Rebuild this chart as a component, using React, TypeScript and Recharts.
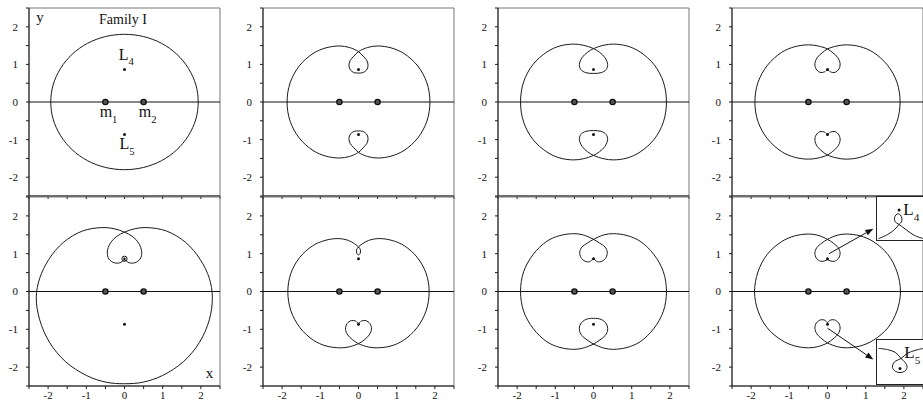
import {
  ComposedChart,
  Line,
  Scatter,
  XAxis,
  YAxis,
  ReferenceArea,
  ReferenceLine,
  ReferenceDot,
} from "recharts";

type Pt = [number, number];

// axis ticks every half unit, labels on integers only
const axisTicks = [-2.5, -2, -1.5, -1, -0.5, 0, 0.5, 1, 1.5, 2, 2.5];

const primaries: Pt[] = [
  [-0.5, 0],
  [0.5, 0],
];
const lagrangePoints: Pt[] = [
  [0, 0.866],
  [0, -0.866],
];

// orbits, traced in order along the path
const orbit1: Pt[] = [
  [1.93, 0], [1.87, 0.45], [1.67, 0.9], [1.37, 1.27], [0.97, 1.56], [0.5, 1.74], [0, 1.8],
  [-0.5, 1.74], [-0.97, 1.56], [-1.37, 1.27], [-1.67, 0.9], [-1.87, 0.45], [-1.93, 0],
  [-1.87, -0.45], [-1.67, -0.9], [-1.37, -1.27], [-0.97, -1.56], [-0.5, -1.74], [0, -1.8],
  [0.5, -1.74], [0.97, -1.56], [1.37, -1.27], [1.67, -0.9], [1.87, -0.45], [1.93, 0],
];

const orbit2: Pt[] = [
  [1.87, 0], [1.79, 0.51], [1.55, 0.96], [1.19, 1.29], [0.85, 1.44], [0.5, 1.49], [0.24, 1.45], [0, 1.34],
  [-0.12, 1.22], [-0.22, 1.1], [-0.25, 0.97], [-0.21, 0.85], [-0.11, 0.78], [0, 0.77], [0.11, 0.78],
  [0.21, 0.85], [0.25, 0.97], [0.22, 1.1], [0.12, 1.22], [0, 1.34],
  [-0.24, 1.45], [-0.5, 1.49], [-0.85, 1.44], [-1.19, 1.29], [-1.55, 0.96], [-1.79, 0.51], [-1.87, 0],
  [-1.79, -0.51], [-1.55, -0.96], [-1.19, -1.29], [-0.85, -1.44], [-0.5, -1.49], [-0.24, -1.45], [0, -1.34],
  [0.12, -1.22], [0.22, -1.1], [0.25, -0.97], [0.21, -0.85], [0.11, -0.78], [0, -0.77], [-0.11, -0.78],
  [-0.21, -0.85], [-0.25, -0.97], [-0.22, -1.1], [-0.12, -1.22], [0, -1.34],
  [0.24, -1.45], [0.5, -1.49], [0.85, -1.44], [1.19, -1.29], [1.55, -0.96], [1.79, -0.51], [1.87, 0],
];

const orbit3: Pt[] = [
  [1.91, 0], [1.83, 0.53], [1.59, 0.99], [1.22, 1.33], [0.88, 1.49], [0.52, 1.54], [0.27, 1.51], [0, 1.42],
  [-0.16, 1.32], [-0.3, 1.18], [-0.37, 1.0], [-0.33, 0.86], [-0.2, 0.78], [0, 0.76], [0.2, 0.78],
  [0.33, 0.86], [0.37, 1.0], [0.3, 1.18], [0.16, 1.32], [0, 1.42],
  [-0.27, 1.51], [-0.52, 1.54], [-0.88, 1.49], [-1.22, 1.33], [-1.59, 0.99], [-1.83, 0.53], [-1.91, 0],
  [-1.83, -0.53], [-1.59, -0.99], [-1.22, -1.33], [-0.88, -1.49], [-0.52, -1.54], [-0.27, -1.51], [0, -1.42],
  [0.16, -1.32], [0.3, -1.18], [0.37, -1.0], [0.33, -0.86], [0.2, -0.78], [0, -0.76], [-0.2, -0.78],
  [-0.33, -0.86], [-0.37, -1.0], [-0.3, -1.18], [-0.16, -1.32], [0, -1.42],
  [0.27, -1.51], [0.52, -1.54], [0.88, -1.49], [1.22, -1.33], [1.59, -0.99], [1.83, -0.53], [1.91, 0],
];

const orbit4: Pt[] = [
  [1.9, 0], [1.82, 0.52], [1.57, 0.98], [1.2, 1.32], [0.86, 1.47], [0.5, 1.52], [0.25, 1.49], [0, 1.41],
  [-0.14, 1.31], [-0.27, 1.18], [-0.33, 1.02], [-0.3, 0.88], [-0.2, 0.79], [-0.08, 0.8], [0, 0.86],
  [0.08, 0.8], [0.2, 0.79], [0.3, 0.88], [0.33, 1.02], [0.27, 1.18], [0.14, 1.31], [0, 1.41],
  [-0.25, 1.49], [-0.5, 1.52], [-0.86, 1.47], [-1.2, 1.32], [-1.57, 0.98], [-1.82, 0.52], [-1.9, 0],
  [-1.82, -0.52], [-1.57, -0.98], [-1.2, -1.32], [-0.86, -1.47], [-0.5, -1.52], [-0.25, -1.49], [0, -1.41],
  [0.14, -1.31], [0.27, -1.18], [0.33, -1.02], [0.3, -0.88], [0.2, -0.79], [0.08, -0.8], [0, -0.86],
  [-0.08, -0.8], [-0.2, -0.79], [-0.3, -0.88], [-0.33, -1.02], [-0.27, -1.18], [-0.14, -1.31], [0, -1.41],
  [0.25, -1.49], [0.5, -1.52], [0.86, -1.47], [1.2, -1.32], [1.57, -0.98], [1.82, -0.52], [1.9, 0],
];

const orbit5: Pt[] = [
  [0, 1.57], [0.27, 1.66], [0.6, 1.69], [1.1, 1.6], [1.6, 1.3], [1.98, 0.85], [2.22, 0.35], [2.3, -0.15],
  [2.22, -0.75], [1.96, -1.35], [1.55, -1.85], [1.0, -2.22], [0.48, -2.4], [0, -2.44],
  [-0.48, -2.4], [-1.0, -2.22], [-1.55, -1.85], [-1.96, -1.35], [-2.22, -0.75], [-2.31, -0.15],
  [-2.22, 0.35], [-1.98, 0.85], [-1.6, 1.3], [-1.1, 1.6], [-0.6, 1.69], [-0.27, 1.66], [0, 1.57],
  [0.2, 1.46], [0.37, 1.28], [0.45, 1.05], [0.41, 0.86], [0.27, 0.76], [0.12, 0.76], [0, 0.83],
  [-0.12, 0.76], [-0.27, 0.76], [-0.41, 0.86], [-0.45, 1.05], [-0.37, 1.28], [-0.2, 1.46], [0, 1.57],
];

const orbit6: Pt[] = [
  [1.85, 0], [1.77, 0.48], [1.54, 0.9], [1.2, 1.21], [0.88, 1.35], [0.54, 1.4], [0.26, 1.35], [0.1, 1.26],
  [0, 1.18], [-0.05, 1.1], [-0.04, 1.0], [0, 0.97], [0.04, 1.0], [0.05, 1.1], [0, 1.18],
  [-0.1, 1.26], [-0.26, 1.35], [-0.54, 1.4], [-0.88, 1.35], [-1.2, 1.21], [-1.54, 0.9], [-1.77, 0.48], [-1.85, 0],
  [-1.77, -0.51], [-1.53, -0.96], [-1.18, -1.29], [-0.85, -1.44], [-0.5, -1.49], [-0.27, -1.47], [0, -1.38],
  [0.15, -1.28], [0.28, -1.15], [0.34, -1.0], [0.3, -0.85], [0.19, -0.77], [0.08, -0.78], [0, -0.84],
  [-0.08, -0.78], [-0.19, -0.77], [-0.3, -0.85], [-0.34, -1.0], [-0.28, -1.15], [-0.15, -1.28], [0, -1.38],
  [0.27, -1.47], [0.5, -1.49], [0.85, -1.44], [1.18, -1.29], [1.53, -0.96], [1.77, -0.51], [1.85, 0],
];

const orbit7: Pt[] = [
  [1.91, 0], [1.83, 0.52], [1.58, 0.98], [1.22, 1.33], [0.88, 1.48], [0.52, 1.53], [0.28, 1.5], [0, 1.38],
  [-0.16, 1.28], [-0.3, 1.18], [-0.36, 1.05], [-0.33, 0.9], [-0.22, 0.8], [-0.1, 0.79], [0, 0.86],
  [0.1, 0.79], [0.22, 0.8], [0.33, 0.9], [0.36, 1.05], [0.3, 1.18], [0.16, 1.28], [0, 1.38],
  [-0.28, 1.5], [-0.52, 1.53], [-0.88, 1.48], [-1.22, 1.33], [-1.58, 0.98], [-1.83, 0.52], [-1.91, 0],
  [-1.83, -0.52], [-1.58, -0.98], [-1.22, -1.33], [-0.88, -1.48], [-0.52, -1.53], [-0.28, -1.5], [0, -1.39],
  [0.17, -1.28], [0.31, -1.16], [0.37, -1.02], [0.34, -0.86], [0.2, -0.74], [0, -0.71], [-0.2, -0.74],
  [-0.34, -0.86], [-0.37, -1.02], [-0.31, -1.16], [-0.17, -1.28], [0, -1.39],
  [0.28, -1.5], [0.52, -1.53], [0.88, -1.48], [1.22, -1.33], [1.58, -0.98], [1.83, -0.52], [1.91, 0],
];

const orbit8: Pt[] = [
  [1.91, 0], [1.82, 0.52], [1.58, 0.98], [1.2, 1.32], [0.86, 1.47], [0.5, 1.52], [0.26, 1.49], [0, 1.38],
  [-0.15, 1.28], [-0.28, 1.16], [-0.33, 1.02], [-0.29, 0.88], [-0.18, 0.8], [-0.07, 0.81], [0, 0.84],
  [0.07, 0.81], [0.18, 0.8], [0.29, 0.88], [0.33, 1.02], [0.28, 1.16], [0.15, 1.28], [0, 1.38],
  [-0.26, 1.49], [-0.5, 1.52], [-0.86, 1.47], [-1.2, 1.32], [-1.58, 0.98], [-1.82, 0.52], [-1.91, 0],
  [-1.82, -0.51], [-1.58, -0.96], [-1.2, -1.29], [-0.86, -1.44], [-0.5, -1.49], [-0.26, -1.46], [0, -1.36],
  [0.15, -1.25], [0.28, -1.12], [0.33, -0.97], [0.29, -0.83], [0.18, -0.75], [0.07, -0.76], [0, -0.82],
  [-0.07, -0.76], [-0.18, -0.75], [-0.29, -0.83], [-0.33, -0.97], [-0.28, -1.12], [-0.15, -1.25], [0, -1.36],
  [0.26, -1.46], [0.5, -1.49], [0.86, -1.44], [1.2, -1.29], [1.58, -0.96], [1.82, -0.51], [1.91, 0],
];

// magnified views near L4 / L5 (unit square coords)
const insetL4: Pt[] = [
  [0.03, 0.03], [0.23, 0.13], [0.37, 0.24], [0.47, 0.36], [0.52, 0.42], [0.53, 0.5], [0.5, 0.58],
  [0.45, 0.61], [0.4, 0.58], [0.37, 0.5], [0.39, 0.42], [0.47, 0.36], [0.62, 0.24], [0.79, 0.11], [0.99, 0.03],
];
const insetL4Point: Pt[] = [[0.47, 0.7]];
const insetL5: Pt[] = [
  [0.03, 0.81], [0.23, 0.78], [0.4, 0.71], [0.51, 0.58], [0.6, 0.49], [0.64, 0.38], [0.59, 0.29],
  [0.49, 0.26], [0.39, 0.29], [0.33, 0.38], [0.37, 0.5], [0.51, 0.58], [0.65, 0.7], [0.83, 0.77], [0.99, 0.81],
];
const insetL5Point: Pt[] = [[0.49, 0.35]];

// arrows from the loops to the magnified views
const arrowL4: Pt[] = [
  [0.04, 1.0],
  [1.2, 1.66],
];
const arrowL5: Pt[] = [
  [0.0, -0.97],
  [1.2, -1.8],
];

const toXY = (pts: Pt[]) => pts.map(([x, y]) => ({ x, y }));

const FONT = "'Liberation Serif', 'Times New Roman', serif";
const INK = "#1a1a1a";
const PLOT_W = 191;
const Y_AXIS_W = 30;
const plotLefts = [28.7, 263, 497.8, 732];

const intLabel = (v: number) => (Number.isInteger(v) ? String(v) : "");
const noLabel = () => "";

// centripetal Catmull-Rom, so uneven point spacing along the loops doesn't kink the path
function orbitCurve(context: any) {
  let pts: number[][] = [];
  const dist = (a: number[], b: number[]) => Math.hypot(b[0] - a[0], b[1] - a[1]);
  return {
    areaStart() {},
    areaEnd() {},
    lineStart() {
      pts = [];
    },
    point(x: number, y: number) {
      pts.push([+x, +y]);
    },
    lineEnd() {
      const n = pts.length;
      if (!n) return;
      const closed = n > 3 && dist(pts[0], pts[n - 1]) < 1e-6;
      context.moveTo(pts[0][0], pts[0][1]);
      for (let i = 0; i < n - 1; i++) {
        const p1 = pts[i];
        const p2 = pts[i + 1];
        const p0 = i > 0 ? pts[i - 1] : closed ? pts[n - 2] : p1;
        const p3 = i + 2 < n ? pts[i + 2] : closed ? pts[1] : p2;
        const l01 = Math.sqrt(dist(p0, p1));
        const l12 = Math.sqrt(dist(p1, p2));
        const l23 = Math.sqrt(dist(p2, p3));
        let c1 = p1;
        let c2 = p2;
        if (l01 > 1e-9) {
          const a = 2 * l01 * l01 + 3 * l01 * l12 + l12 * l12;
          const m = 3 * l01 * (l01 + l12);
          c1 = [0, 1].map((k) => (p1[k] * a - p0[k] * l12 * l12 + p2[k] * l01 * l01) / m);
        }
        if (l23 > 1e-9) {
          const b = 2 * l23 * l23 + 3 * l23 * l12 + l12 * l12;
          const m = 3 * l23 * (l23 + l12);
          c2 = [0, 1].map((k) => (p2[k] * b + p1[k] * l23 * l23 - p3[k] * l12 * l12) / m);
        }
        context.bezierCurveTo(c1[0], c1[1], c2[0], c2[1], p2[0], p2[1]);
      }
    },
  };
}

function PrimaryDot(p: any) {
  return <circle cx={p.cx} cy={p.cy} r={2.6} fill="#555" stroke="#111" strokeWidth={1.4} />;
}
function SmallDot(p: any) {
  return <circle cx={p.cx} cy={p.cy} r={1.5} fill="#111" />;
}
function RingDot(p: any) {
  return (
    <g>
      <circle cx={p.cx} cy={p.cy} r={2.6} fill="none" stroke="#111" strokeWidth={1} />
      <circle cx={p.cx} cy={p.cy} r={1.2} fill="#111" />
    </g>
  );
}

function SubText(props: any) {
  const { viewBox, main, sub, size = 16, anchor = "start" } = props;
  const x = viewBox.x + viewBox.width / 2;
  const y = viewBox.y + viewBox.height / 2;
  return (
    <text x={x} y={y} fontFamily={FONT} fontSize={size} fill="#111" textAnchor={anchor}>
      {main}
      {sub ? (
        <tspan fontSize={size * 0.66} dy={size * 0.33}>
          {sub}
        </tspan>
      ) : null}
    </text>
  );
}

function Arrow(p: any) {
  const { x1, y1, x2, y2 } = p;
  const a = Math.atan2(y2 - y1, x2 - x1);
  const len = 8;
  const w = 3;
  const bx = x2 - len * Math.cos(a);
  const by = y2 - len * Math.sin(a);
  const head = `${x2},${y2} ${bx - w * Math.sin(a)},${by + w * Math.cos(a)} ${bx + w * Math.sin(a)},${by - w * Math.cos(a)}`;
  return (
    <g>
      <line x1={x1} y1={y1} x2={bx} y2={by} stroke="#111" strokeWidth={1} />
      <polygon points={head} fill="#111" />
    </g>
  );
}

const tickStyle = { fontSize: 11, fill: "#111", fontFamily: FONT };

function Panel({
  orbit,
  col,
  row,
  ringL4 = false,
  children,
}: {
  orbit: Pt[];
  col: number;
  row: number;
  ringL4?: boolean;
  children?: any;
}) {
  const bottom = row === 1;
  const top = bottom ? 192 : 0;
  const mTop = bottom ? 5 : 8;
  const plotH = bottom ? 189 : 188;
  const axisH = bottom ? 22 : 6;
  return (
    <div style={{ position: "absolute", left: plotLefts[col] - Y_AXIS_W, top }}>
      <ComposedChart
        width={Y_AXIS_W + PLOT_W + 2}
        height={mTop + plotH + axisH}
        margin={{ top: mTop, right: 2, left: 0, bottom: 0 }}
      >
        <XAxis
          type="number"
          dataKey="x"
          domain={[-2.5, 2.5]}
          ticks={axisTicks}
          interval={0}
          allowDataOverflow
          height={axisH}
          tickSize={3}
          tickMargin={2}
          stroke={INK}
          tickFormatter={bottom ? intLabel : noLabel}
          tick={tickStyle}
        />
        <YAxis
          type="number"
          dataKey="y"
          domain={[-2.5, 2.5]}
          ticks={axisTicks}
          interval={0}
          allowDataOverflow
          width={Y_AXIS_W}
          tickSize={3}
          tickMargin={8}
          stroke={INK}
          tickFormatter={intLabel}
          tick={tickStyle}
        />
        <ReferenceArea
          x1={-2.5}
          x2={2.5}
          y1={-2.5}
          y2={2.5}
          fill="none"
          stroke="#777"
          strokeWidth={1}
          ifOverflow="visible"
        />
        <ReferenceLine y={0} stroke="#111" strokeWidth={1.2} />
        <Line
          data={toXY(orbit)}
          dataKey="y"
          type={orbitCurve as any}
          dot={false}
          stroke={INK}
          strokeWidth={1}
          isAnimationActive={false}
        />
        <Scatter data={toXY(primaries)} shape={PrimaryDot} isAnimationActive={false} />
        <Scatter data={toXY(lagrangePoints.slice(0, 1))} shape={ringL4 ? RingDot : SmallDot} isAnimationActive={false} />
        <Scatter data={toXY(lagrangePoints.slice(1))} shape={SmallDot} isAnimationActive={false} />
        {children}
      </ComposedChart>
    </div>
  );
}

function Inset({
  curve,
  point,
  left,
  top,
  height,
  label,
}: {
  curve: Pt[];
  point: Pt[];
  left: number;
  top: number;
  height: number;
  label: { main: string; sub: string; x: number; y: number };
}) {
  return (
    <div
      style={{
        position: "absolute",
        left,
        top,
        width: 48,
        height,
        background: "#fff",
        border: "1px solid #222",
        borderRight: "none",
        boxSizing: "border-box",
        overflow: "hidden",
      }}
    >
      <ComposedChart width={47} height={height - 2} margin={{ top: 0, right: 0, left: 0, bottom: 0 }}>
        <XAxis type="number" dataKey="x" domain={[0, 1]} hide />
        <YAxis type="number" dataKey="y" domain={[0, 1]} hide />
        <Line
          data={toXY(curve)}
          dataKey="y"
          type={orbitCurve as any}
          dot={false}
          stroke={INK}
          strokeWidth={1}
          isAnimationActive={false}
        />
        <Scatter data={toXY(point)} shape={SmallDot} isAnimationActive={false} />
        <ReferenceDot
          x={label.x}
          y={label.y}
          r={0}
          label={<SubText main={label.main} sub={label.sub} size={17} />}
        />
      </ComposedChart>
    </div>
  );
}

export default function App() {
  return (
    <div
      style={{
        position: "absolute",
        left: 0,
        top: 0,
        width: 923,
        height: 408,
        overflow: "hidden",
        background: "#fff",
      }}
    >
      <Panel orbit={orbit1} col={0} row={0}>
        <ReferenceDot x={-0.04} y={2.07} r={0} label={<SubText main="Family I" size={14} anchor="middle" />} />
        <ReferenceDot x={-2.31} y={2.13} r={0} label={<SubText main="y" size={15} />} />
        <ReferenceDot x={-0.15} y={1.12} r={0} label={<SubText main="L" sub="4" />} />
        <ReferenceDot x={-0.13} y={-1.26} r={0} label={<SubText main="L" sub="5" />} />
        <ReferenceDot x={-0.65} y={-0.41} r={0} label={<SubText main="m" sub="1" />} />
        <ReferenceDot x={0.375} y={-0.41} r={0} label={<SubText main="m" sub="2" />} />
      </Panel>
      <Panel orbit={orbit2} col={1} row={0} />
      <Panel orbit={orbit3} col={2} row={0} />
      <Panel orbit={orbit4} col={3} row={0} />
      <Panel orbit={orbit5} col={0} row={1} ringL4>
        <ReferenceDot x={2.13} y={-2.3} r={0} label={<SubText main="x" size={15} />} />
      </Panel>
      <Panel orbit={orbit6} col={1} row={1} />
      <Panel orbit={orbit7} col={2} row={1} />
      <Panel orbit={orbit8} col={3} row={1}>
        <ReferenceLine segment={toXY(arrowL4)} shape={Arrow} ifOverflow="visible" />
        <ReferenceLine segment={toXY(arrowL5)} shape={Arrow} ifOverflow="visible" />
      </Panel>
      <Inset
        curve={insetL4}
        point={insetL4Point}
        left={876}
        top={196}
        height={45}
        label={{ main: "L", sub: "4", x: 0.56, y: 0.57 }}
      />
      <Inset
        curve={insetL5}
        point={insetL5Point}
        left={876}
        top={339}
        height={46}
        label={{ main: "L", sub: "5", x: 0.58, y: 0.58 }}
      />
    </div>
  );
}
